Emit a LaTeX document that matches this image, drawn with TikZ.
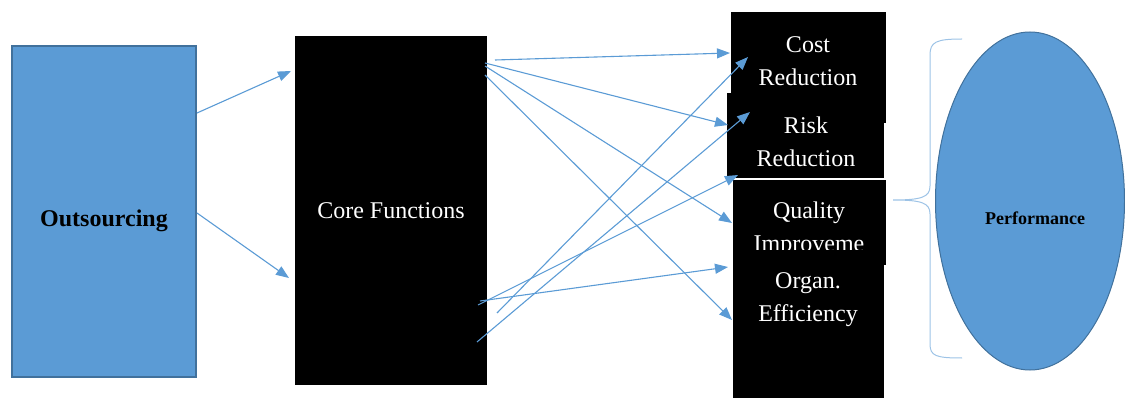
\documentclass[tikz,border=0pt]{standalone}
\usepackage{fontspec}
\setmainfont{Liberation Serif}
\usetikzlibrary{arrows.meta,shapes.geometric}
\definecolor{midblue}{HTML}{5B9BD5}
\definecolor{edgeblue}{HTML}{41719C}
\definecolor{paleblue}{HTML}{9DC3E6}

\begin{document}
\begin{tikzpicture}[x=1pt,y=-1pt,
  every node/.style={outer sep=0pt, inner sep=0pt},
  blackbox/.style={rectangle, fill=black},
  boxtext/.style={text=white, align=center, font=\fontsize{24}{33}\selectfont},
  link/.style={draw=midblue, line width=1.1pt, -{Triangle[length=13pt,width=10pt]}}]
\useasboundingbox (0,0) rectangle (1125,398);

\node[fill=midblue, draw=edgeblue, line width=1.2pt, minimum width=184, minimum height=331] (out) at (104,211.5) {};
\node[font=\fontsize{24}{29}\selectfont\bfseries] (outtext) at (104,221) {Outsourcing};

\node[blackbox, minimum width=192, minimum height=349] (core) at (391,210.5) {};
\node[boxtext] (coretext) at (391,211) {Core Functions};

\node[blackbox, minimum width=155, minimum height=111] (cost) at (808.5,67.5) {};
\node[boxtext] (costtext) at (808,61) {Cost\\Reduction};
\node[blackbox, minimum width=157, minimum height=85] (risk) at (805.5,135.5) {};
\node[boxtext] (risktext) at (806,142) {Risk\\Reduction};
\node[blackbox, minimum width=153, minimum height=86] (qual) at (809.5,222) {};
\draw[white, line width=0.8pt] (qual.north west) -- (qual.north east);
\node[boxtext] (qualtext) at (809,229) {Quality\\Improveme};
\node[blackbox, minimum width=151, minimum height=148] (organ) at (808.5,324) {};
\node[boxtext] (organtext) at (808,300) {Organ.\\Efficiency};

\node[ellipse, fill=midblue, draw=edgeblue, line width=1pt, minimum width=189, minimum height=338] (perf) at (1030,201) {};
\node[font=\fontsize{18}{22}\selectfont\bfseries] (perftext) at (1035,218) {Performance};

\draw[paleblue, line width=1pt] (962,39) .. controls (936,39) and (930,42) .. (930,55) -- (930,186)
  .. controls (930,197) and (922,200) .. (893,200) .. controls (922,200) and (930,203) .. (930,214)
  -- (930,344) .. controls (930,356) and (936,358) .. (962,358);

\coordinate (o1) at (197,113);
\coordinate (o2) at (197,213);
\coordinate (c1) at (291,71);
\coordinate (c2) at (289,278);
\coordinate (t1) at (495,60);
\coordinate (t2) at (485,63);
\coordinate (t3) at (485,66);
\coordinate (t4) at (485,75);
\coordinate (b1) at (478,305);
\coordinate (b2) at (480,301);
\coordinate (b3) at (497,313);
\coordinate (b4) at (477,342);
\coordinate (r1) at (730,53);
\coordinate (r2) at (728,125);
\coordinate (r3) at (732,223);
\coordinate (r4) at (732,320);
\coordinate (r5) at (738,175);
\coordinate (r6) at (728,267);
\coordinate (r7) at (748,57);
\coordinate (r8) at (750,112);

\draw[link] (o1) -- (c1);
\draw[link] (o2) -- (c2);
\draw[link] (t1) -- (r1);
\draw[link] (t2) -- (r2);
\draw[link] (t3) -- (r3);
\draw[link] (t4) -- (r4);
\draw[link] (b1) -- (r5);
\draw[link] (b2) -- (r6);
\draw[link] (b3) -- (r7);
\draw[link] (b4) -- (r8);
\end{tikzpicture}
\end{document}
